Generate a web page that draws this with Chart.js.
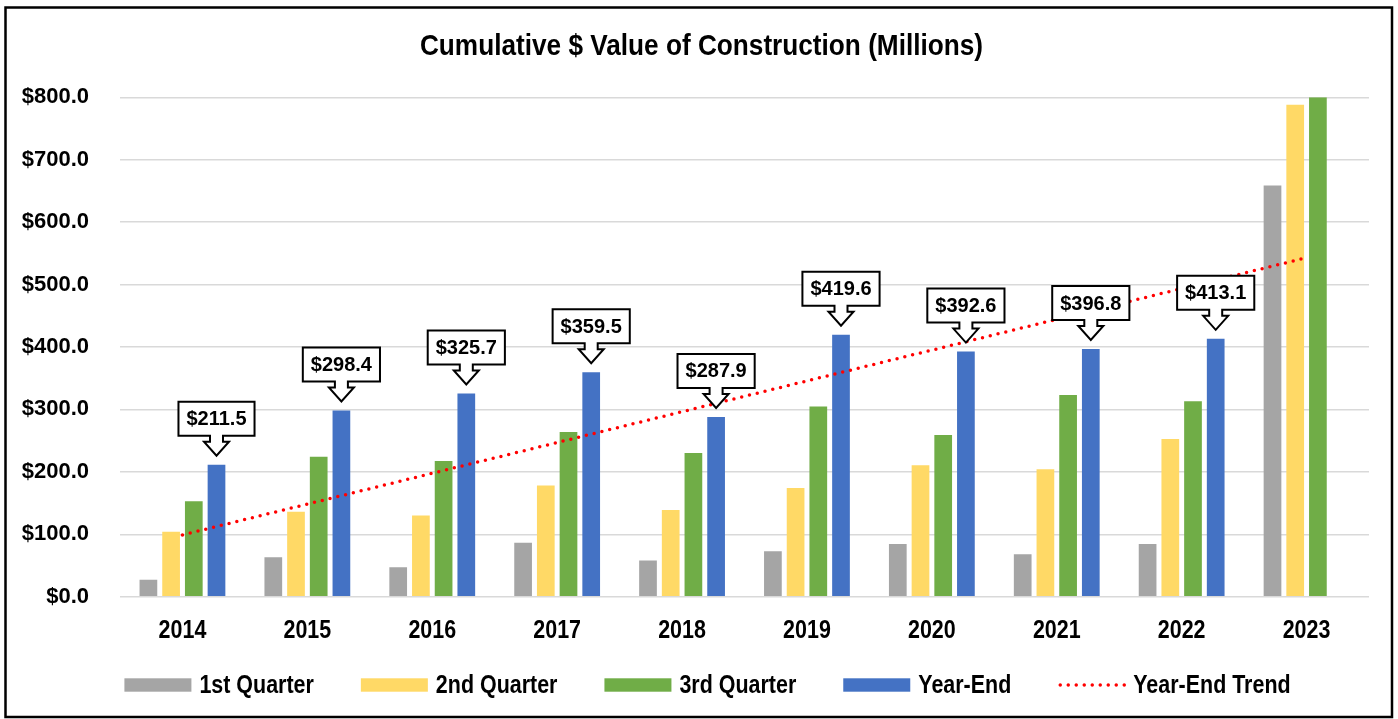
<!DOCTYPE html>
<html>
<head>
<meta charset="utf-8">
<script src="https://cdn.jsdelivr.net/npm/chart.js@4.4.0/dist/chart.umd.min.js"></script>
<style>
  html, body { margin: 0; padding: 0; background: #ffffff; }
  canvas { display: block; }
</style>
</head>
<body>
<canvas id="c" width="1398" height="719"></canvas>
<script>
// ---- Data ----
const years = ['2014', '2015', '2016', '2017', '2018', '2019', '2020', '2021', '2022', '2023'];
const q1 = [27, 63, 47, 86.5, 58, 73, 84.5, 68, 84.5, 658.6];
const q2 = [104, 136, 130, 178, 139, 174, 210.5, 204, 252.7, 788];
const q3 = [153, 224, 217.5, 264, 230, 304.5, 259, 323, 313, 800];
const yearEnd = [211.5, 298.4, 325.7, 359.5, 287.9, 419.6, 392.6, 396.8, 413.1, null];
const trend = [99, null, null, null, null, null, null, null, null, 543];
const yTicks = [0, 100, 200, 300, 400, 500, 600, 700, 800];
const seriesNames = ['1st Quarter', '2nd Quarter', '3rd Quarter', 'Year-End', 'Year-End Trend'];
const titleText = 'Cumulative $ Value of Construction (Millions)';

const FONT = "'Liberation Sans', Arial, sans-serif";
Chart.defaults.font.family = FONT;
Chart.defaults.color = '#000000';

const fmt = v => '$' + Number(v).toFixed(1);

// Horizontal condensing (the reference uses a narrow face)
const TITLE_K = 0.873, XLABEL_K = 0.825, LEGEND_K = 0.825;

const layoutPlugin = {
  id: 'tweaks',
  afterLayout(chart) {
    const tt = chart.titleBlock;
    if (tt) {
      const dx = 701.5 - (tt.left + tt.right) / 2;
      tt.left += dx; tt.right += dx;
      if (!tt._condensed) {
        tt._condensed = true;
        const od = tt.draw;
        tt.draw = function (area) {
          const c = this.ctx, cx = (this.left + this.right) / 2;
          c.save(); c.translate(cx, 0); c.scale(TITLE_K, 1); c.translate(-cx, 0);
          od.call(this, area);
          c.restore();
        };
      }
    }
    const xs = chart.scales.x;
    if (xs && !xs._condensed) {
      xs._condensed = true;
      const orig = xs.drawLabels;
      xs.drawLabels = function (area) {
        const c = this.ctx;
        const ot = CanvasRenderingContext2D.prototype.translate;
        c.translate = function (a, b) { ot.call(c, a, b); c.scale(XLABEL_K, 1); };
        try { orig.call(this, area); } finally { delete c.translate; }
      };
    }
  },
  beforeDraw(chart) {
    const ctx = chart.ctx;
    ctx.save();
    ctx.fillStyle = '#ffffff';
    ctx.fillRect(0, 0, chart.width, chart.height);
    ctx.restore();
  },
  afterDraw(chart) {
    const ctx = chart.ctx;
    // legend row
    ctx.save();
    const size = 26, boxW = 67, boxH = 13.4, gapText = 8, gapItem = 47, cy = 685;
    ctx.font = 'bold ' + size + 'px ' + FONT;
    const items = chart.data.datasets.map(ds => ({ ds, w: ctx.measureText(ds.label).width * LEGEND_K }));
    const total = items.reduce((s, it) => s + boxW + gapText + it.w, 0) + gapItem * (items.length - 1);
    let x = 707.5 - total / 2;
    items.forEach(({ ds, w }) => {
      if (ds.type === 'line') {
        ctx.save();
        ctx.strokeStyle = ds.borderColor; ctx.lineWidth = ds.borderWidth;
        ctx.lineCap = 'round'; ctx.setLineDash(ds.borderDash);
        ctx.beginPath(); ctx.moveTo(x + 2, cy); ctx.lineTo(x + boxW, cy); ctx.stroke();
        ctx.restore();
      } else {
        ctx.fillStyle = ds.backgroundColor;
        ctx.fillRect(x, cy - boxH / 2, boxW, boxH);
      }
      x += boxW + gapText;
      ctx.save();
      ctx.translate(x, cy); ctx.scale(LEGEND_K, 1);
      ctx.fillStyle = '#000000'; ctx.textAlign = 'left'; ctx.textBaseline = 'middle';
      ctx.fillText(ds.label, 0, 1);
      ctx.restore();
      x += w + gapItem;
    });
    ctx.restore();
    // outer frame
    ctx.save();
    ctx.strokeStyle = '#000000';
    ctx.lineWidth = 2.5;
    ctx.strokeRect(5.5, 7.5, 1386.5, 709.5);
    ctx.restore();
  }
};

// Callout labels above the Year-End bars
const calloutPlugin = {
  id: 'callouts',
  afterDatasetsDraw(chart) {
    const ctx = chart.ctx;
    const meta = chart.getDatasetMeta(3);
    const data = chart.data.datasets[3].data;
    ctx.save();
    ctx.font = "bold 20px " + FONT;
    meta.data.forEach((bar, i) => {
      const v = data[i];
      if (v === null || v === undefined) return;
      const cx = bar.x;
      const top = bar.y;
      const tip = top - 9;
      const headY = tip - 14;
      const boxBottom = tip - 20;
      const boxH = 34;
      const boxTop = boxBottom - boxH;
      const txt = fmt(v);
      const tw = ctx.measureText(txt).width;
      const bw = tw + 16;
      const left = cx - bw / 2, right = cx + bw / 2;
      const sh = 6.5, hh = 12.5;
      ctx.beginPath();
      ctx.moveTo(left, boxTop);
      ctx.lineTo(right, boxTop);
      ctx.lineTo(right, boxBottom);
      ctx.lineTo(cx + sh, boxBottom);
      ctx.lineTo(cx + sh, headY);
      ctx.lineTo(cx + hh, headY);
      ctx.lineTo(cx, tip);
      ctx.lineTo(cx - hh, headY);
      ctx.lineTo(cx - sh, headY);
      ctx.lineTo(cx - sh, boxBottom);
      ctx.lineTo(left, boxBottom);
      ctx.closePath();
      ctx.fillStyle = '#ffffff';
      ctx.fill();
      ctx.lineWidth = 2;
      ctx.strokeStyle = '#000000';
      ctx.lineJoin = 'miter';
      ctx.stroke();
      ctx.fillStyle = '#000000';
      ctx.textAlign = 'center';
      ctx.textBaseline = 'middle';
      ctx.fillText(txt, cx, boxTop + boxH / 2 + 1);
    });
    ctx.restore();
  }
};

const barCommon = { categoryPercentage: 0.727, barPercentage: 0.78, borderWidth: 0 };

new Chart(document.getElementById('c'), {
  type: 'bar',
  data: {
    labels: years,
    datasets: [
      Object.assign({ label: seriesNames[0], data: q1, backgroundColor: '#A5A5A5', order: 2 }, barCommon),
      Object.assign({ label: seriesNames[1], data: q2, backgroundColor: '#FFD966', order: 2 }, barCommon),
      Object.assign({ label: seriesNames[2], data: q3, backgroundColor: '#70AD47', order: 2 }, barCommon),
      Object.assign({ label: seriesNames[3], data: yearEnd, backgroundColor: '#4472C4', order: 2 }, barCommon),
      {
        type: 'line', label: seriesNames[4], data: trend, spanGaps: true,
        borderColor: '#FF0000', backgroundColor: '#FF0000', borderWidth: 3.5,
        borderDash: [0, 8], borderCapStyle: 'round', pointRadius: 0, fill: false, order: 1
      }
    ]
  },
  options: {
    responsive: false,
    animation: false,
    devicePixelRatio: 1,
    layout: { padding: { left: 0, right: 29, top: 0, bottom: 73.3 } },
    plugins: {
      title: {
        display: true, text: titleText, color: '#000000',
        font: { size: 30, weight: 'bold', family: FONT, lineHeight: 1.2 },
        padding: { top: 28.7, bottom: 32.6 }
      },
      legend: { display: false },
      tooltip: { enabled: false }
    },
    scales: {
      x: {
        grid: { display: false, drawTicks: false },
        border: { display: false },
        ticks: { color: '#000000', font: { size: 26, weight: 'bold', family: FONT, lineHeight: 1.2 }, padding: 19, maxRotation: 0, autoSkip: false },
        afterFit(scale) { scale.height = 49; }
      },
      y: {
        min: yTicks[0], max: yTicks[yTicks.length - 1],
        afterBuildTicks(scale) { scale.ticks = yTicks.map(v => ({ value: v })); },
        grid: { color: '#D9D9D9', lineWidth: 1.5, drawTicks: false },
        border: { display: false },
        ticks: { color: '#000000', font: { size: 22, weight: 'bold', family: FONT }, padding: 31, callback: v => fmt(v) },
        afterFit(scale) { scale.width = 120; }
      }
    }
  },
  plugins: [layoutPlugin, calloutPlugin]
});
</script>
</body>
</html>
